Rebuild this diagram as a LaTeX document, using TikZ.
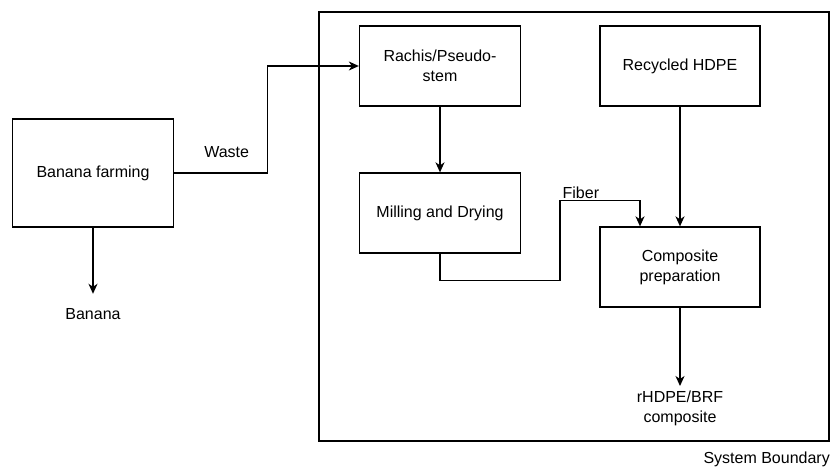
\documentclass[tikz,border=0pt]{standalone}
\usepackage{fontspec}
\setmainfont{Liberation Sans}
\usetikzlibrary{arrows.meta}
\begin{document}
\begin{tikzpicture}[x=1pt, y=-1pt, every node/.style={font=\fontsize{16}{20}\selectfont}]
        \tikzstyle{block}=[rectangle, draw, line width=1.3pt, minimum width=161pt, minimum height=80pt, align=center, inner sep=2pt]
        \tikzstyle{flow}=[line width=1.3pt, -{Stealth[length=10pt, width=9pt, inset=3pt]}]
        \tikzstyle{txt}=[align=center, inner sep=0pt]

        \useasboundingbox (0,0) rectangle (832,468);

        \node[draw, line width=1.3pt, minimum width=510pt, minimum height=429pt] (boundary) at (574,226.5) {};
        \node[txt, anchor=base east] (bname) at (830,463) {System Boundary};

        \node[block, minimum height=108pt] (farm) at (93,173) {Banana farming};
        \node[block] (rachis) at (440,66) {Rachis/Pseudo-\\stem};
        \node[block, minimum width=160pt] (hdpe) at (680,66) {Recycled HDPE};
        \node[block] (mill) at (440,213) {Milling and Drying};
        \node[block, minimum width=160pt] (comp) at (680,267) {Composite\\preparation};

        \node[txt, anchor=base] (banana) at (93,319) {Banana};
        \node[txt, anchor=north] (product) at (680,391) {rHDPE/BRF\\composite};

        \draw[flow] (farm.east) -- node[txt, above=15pt, xshift=6pt] {Waste} ++(93,0) |- (rachis.west);
        \draw[flow, shorten >=14pt] (farm.south) -- (banana.north);
        \draw[flow] (rachis.south) -- (mill.north);
        \draw[flow] (mill.south) -- ++(0,27) -| ++(120,-80) node[txt, anchor=south west, xshift=2pt, yshift=1pt] {Fiber} -| ([xshift=-40pt]comp.north);
        \draw[flow] (hdpe.south) -- (comp.north);
        \draw[flow, shorten >=5pt] (comp.south) -- (product.north);
    \end{tikzpicture}
\end{document}
